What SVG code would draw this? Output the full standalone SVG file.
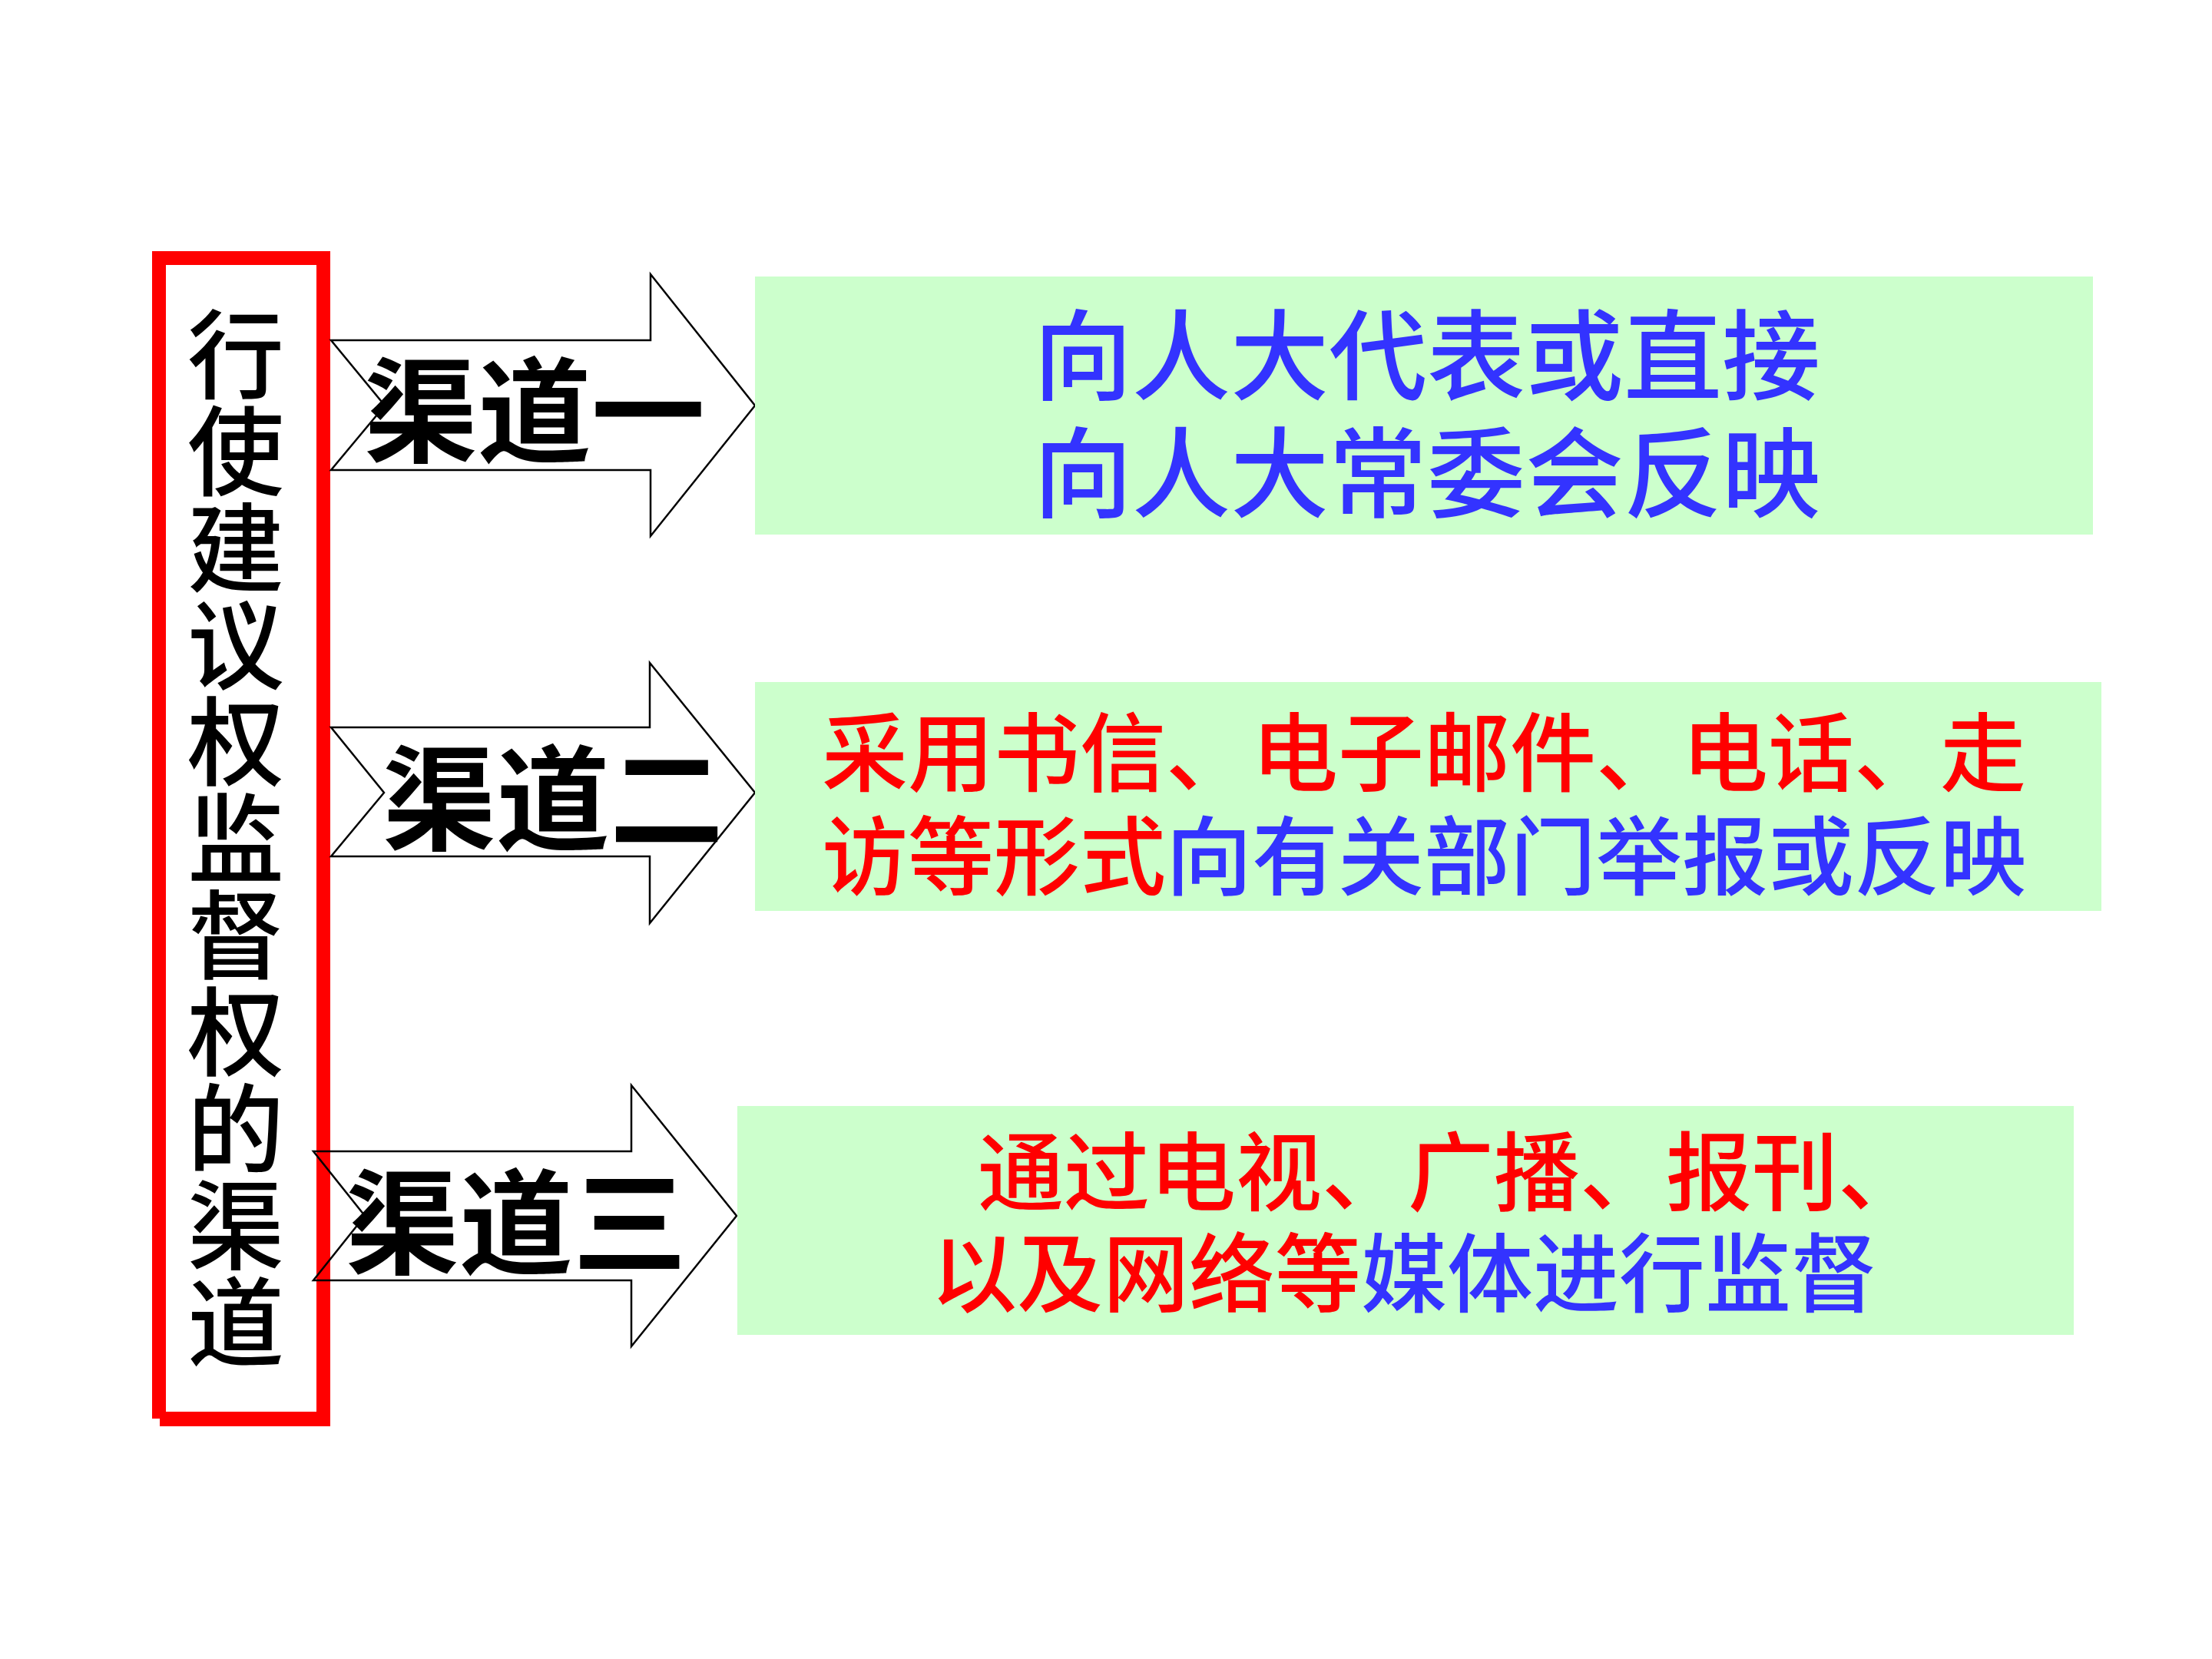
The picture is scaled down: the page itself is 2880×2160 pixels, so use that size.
<svg xmlns="http://www.w3.org/2000/svg" width="2880" height="2160" viewBox="0 0 2880 2160">
<style>
.cjk{font-family:'Noto Sans CJK SC','Noto Sans CJK TC',sans-serif;}
.vt{font-size:126px;fill:#000;writing-mode:vertical-rl;font-weight:500;}
.lbl{font-size:148px;font-weight:bold;fill:#000;}
.arrow{fill:none;stroke:#000;stroke-width:2.5;stroke-linejoin:miter;}
.box{fill:#CCFFCC;}
.blue{fill:#3333FF;}
.red{fill:#FF0000;}
.t1{font-size:128px;font-weight:500;}
.t2{font-size:112px;font-weight:500;}
</style>
<rect width="2880" height="2160" fill="#FFFFFF"/>
<g id="title">
  <rect x="198" y="327" width="232" height="1520" fill="#FF0000"/>
  <rect x="208" y="1838" width="222" height="19" fill="#FF0000"/>
  <rect x="216" y="345" width="196" height="1493" fill="#FFFFFF"/>
  <text class="cjk vt" x="307" y="398">行使建议权监督权的渠道</text>
</g>
<g id="connectors">
  <g id="arrow1">
    <polygon class="arrow" points="431,443 847,443 847,357 983,528 847,698 847,612 431,612 501,528"/>
    <text class="cjk lbl" x="474" y="590">渠道一</text>
  </g>
  <g id="arrow2">
    <polygon class="arrow" points="431,947 846,947 846,863 983,1032 846,1202 846,1115 431,1115 500,1032"/>
    <text class="cjk lbl" x="498" y="1095">渠道二</text>
  </g>
  <g id="arrow3">
    <polygon class="arrow" points="408,1499 822,1499 822,1413 959,1583 822,1753 822,1667 408,1667 475,1583"/>
    <text class="cjk lbl" x="450" y="1647">渠道三</text>
  </g>
</g>
<g id="channel1">
  <rect class="box" x="983" y="360" width="1742" height="336"/>
  <text class="cjk t1 blue" text-anchor="middle"><tspan x="1858" y="511">向人大代表或直接</tspan><tspan x="1858" y="664">向人大常委会反映</tspan></text>
</g>
<g id="channel2">
  <rect class="box" x="983" y="888" width="1753" height="298"/>
  <text class="cjk t2"><tspan class="red" x="1070" y="1022">采用书信、电子邮件、电话、走</tspan><tspan class="red" x="1070" y="1157">访等形式</tspan><tspan class="blue">向有关部门举报或反映</tspan></text>
</g>
<g id="channel3">
  <rect class="box" x="960" y="1440" width="1740" height="298"/>
  <text class="cjk t2"><tspan class="red" x="1273" y="1568">通过电视、广播、报刊、</tspan><tspan class="red" x="1212" y="1700">以及网络等</tspan><tspan class="blue">媒体进行监督</tspan></text>
</g>
</svg>
